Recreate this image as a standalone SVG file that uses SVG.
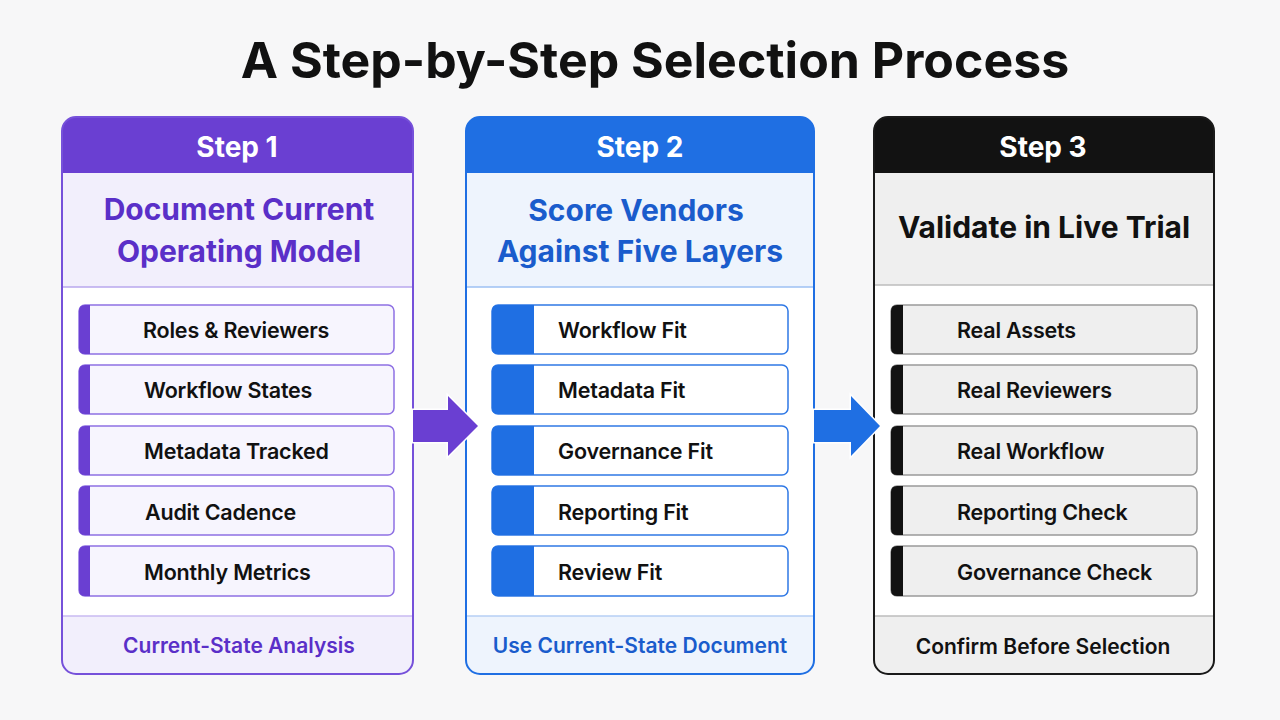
<svg xmlns="http://www.w3.org/2000/svg" width="1280" height="720" viewBox="0 0 1280 720">
<defs>
<style>
.title{font-family:Inter,"Liberation Sans",sans-serif;font-weight:700;font-size:50px;fill:#111;text-anchor:middle}
.hdr{font-family:Inter,"Liberation Sans",sans-serif;font-weight:700;font-size:28px;fill:#fff;text-anchor:middle}
.sub{font-family:Inter,"Liberation Sans",sans-serif;font-weight:700;font-size:30px;text-anchor:middle}
.item{font-family:Inter,"Liberation Sans",sans-serif;font-weight:600;font-size:21.5px;letter-spacing:-0.2px;fill:#111}
.foot{font-family:Inter,"Liberation Sans",sans-serif;font-weight:600;font-size:21px;text-anchor:middle}
.p1{fill:#5a2fc8}.p2{fill:#1a5ccc}.p3{fill:#111}
</style>
<clipPath id="c1"><rect x="62" y="117" width="351" height="557" rx="14"/></clipPath>
<clipPath id="c2"><rect x="466" y="117" width="348" height="557" rx="14"/></clipPath>
<clipPath id="c3"><rect x="874" y="117" width="340" height="557" rx="14"/></clipPath>
</defs>
<rect width="1280" height="720" fill="#f7f7f8"/>
<text class="title" x="655" y="78">A Step-by-Step Selection Process</text>

<g id="step1">
<g clip-path="url(#c1)">
<rect x="62" y="117" width="351" height="557" fill="#ffffff"/>
<rect x="62" y="117" width="351" height="56" fill="#6a3fd2"/>
<rect x="62" y="173" width="351" height="114" fill="#f2effc"/>
<rect x="62" y="616" width="351" height="58" fill="#f2effc"/>
</g>
<line x1="62" y1="287" x2="413" y2="287" stroke="#b9a7ee" stroke-width="1.5"/>
<line x1="62" y1="616" x2="413" y2="616" stroke="#c8baf2" stroke-width="1.5"/>
<rect x="62" y="117" width="351" height="557" rx="14" fill="none" stroke="#7651da" stroke-width="2"/>
<text class="hdr" x="237" y="157">Step 1</text>
<text class="sub p1" x="239" y="220">Document Current</text>
<text class="sub p1" x="239" y="262">Operating Model</text>
<g id="s1-items">
<rect x="79" y="305" width="315" height="49" rx="6" fill="#f7f5fe" stroke="#8e70e3" stroke-width="1.5"/>
<path d="M85,305 H90 V354 H85 Q79,354 79,348 V311 Q79,305 85,305 Z" fill="#6a3fd2"/>
<text class="item" x="143" y="338">Roles &amp; Reviewers</text>
<rect x="79" y="365" width="315" height="49" rx="6" fill="#f7f5fe" stroke="#8e70e3" stroke-width="1.5"/>
<path d="M85,365 H90 V414 H85 Q79,414 79,408 V371 Q79,365 85,365 Z" fill="#6a3fd2"/>
<text class="item" x="144" y="398">Workflow States</text>
<rect x="79" y="426" width="315" height="49" rx="6" fill="#f7f5fe" stroke="#8e70e3" stroke-width="1.5"/>
<path d="M85,426 H90 V475 H85 Q79,475 79,469 V432 Q79,426 85,426 Z" fill="#6a3fd2"/>
<text class="item" x="144" y="459">Metadata Tracked</text>
<rect x="79" y="486" width="315" height="49" rx="6" fill="#f7f5fe" stroke="#8e70e3" stroke-width="1.5"/>
<path d="M85,486 H90 V535 H85 Q79,535 79,529 V492 Q79,486 85,486 Z" fill="#6a3fd2"/>
<text class="item" x="145" y="520">Audit Cadence</text>
<rect x="79" y="546" width="315" height="50" rx="6" fill="#f7f5fe" stroke="#8e70e3" stroke-width="1.5"/>
<path d="M85,546 H90 V596 H85 Q79,596 79,590 V552 Q79,546 85,546 Z" fill="#6a3fd2"/>
<text class="item" x="144" y="580">Monthly Metrics</text>
</g>
<text class="foot p1" x="239" y="653">Current-State Analysis</text>
</g>

<g id="step2">
<g clip-path="url(#c2)">
<rect x="466" y="117" width="348" height="557" fill="#ffffff"/>
<rect x="466" y="117" width="348" height="56" fill="#1f6fe3"/>
<rect x="466" y="173" width="348" height="114" fill="#eef4fd"/>
<rect x="466" y="616" width="348" height="58" fill="#eef4fd"/>
</g>
<line x1="466" y1="287" x2="814" y2="287" stroke="#9dc0f3" stroke-width="1.5"/>
<line x1="466" y1="616" x2="814" y2="616" stroke="#b6cff5" stroke-width="1.5"/>
<rect x="466" y="117" width="348" height="557" rx="14" fill="none" stroke="#1f6fe3" stroke-width="2"/>
<text class="hdr" x="640" y="157">Step 2</text>
<text class="sub p2" x="636" y="221">Score Vendors</text>
<text class="sub p2" x="640" y="262">Against Five Layers</text>
<g id="s2-items">
<rect x="492" y="305" width="296" height="49" rx="6" fill="#ffffff" stroke="#2f78e5" stroke-width="1.5"/>
<path d="M498,305 H534 V354 H498 Q492,354 492,348 V311 Q492,305 498,305 Z" fill="#1f6fe3"/>
<text class="item" x="558" y="338">Workflow Fit</text>
<rect x="492" y="365" width="296" height="49" rx="6" fill="#ffffff" stroke="#2f78e5" stroke-width="1.5"/>
<path d="M498,365 H534 V414 H498 Q492,414 492,408 V371 Q492,365 498,365 Z" fill="#1f6fe3"/>
<text class="item" x="558" y="398">Metadata Fit</text>
<rect x="492" y="426" width="296" height="49" rx="6" fill="#ffffff" stroke="#2f78e5" stroke-width="1.5"/>
<path d="M498,426 H534 V475 H498 Q492,475 492,469 V432 Q492,426 498,426 Z" fill="#1f6fe3"/>
<text class="item" x="558" y="459">Governance Fit</text>
<rect x="492" y="486" width="296" height="49" rx="6" fill="#ffffff" stroke="#2f78e5" stroke-width="1.5"/>
<path d="M498,486 H534 V535 H498 Q492,535 492,529 V492 Q492,486 498,486 Z" fill="#1f6fe3"/>
<text class="item" x="558" y="520">Reporting Fit</text>
<rect x="492" y="546" width="296" height="50" rx="6" fill="#ffffff" stroke="#2f78e5" stroke-width="1.5"/>
<path d="M498,546 H534 V596 H498 Q492,596 492,590 V552 Q492,546 498,546 Z" fill="#1f6fe3"/>
<text class="item" x="558" y="580">Review Fit</text>
</g>
<text class="foot p2" x="640" y="653">Use Current-State Document</text>
</g>

<g id="step3">
<g clip-path="url(#c3)">
<rect x="874" y="117" width="340" height="557" fill="#ffffff"/>
<rect x="874" y="117" width="340" height="56" fill="#121212"/>
<rect x="874" y="173" width="340" height="112" fill="#efefef"/>
<rect x="874" y="616" width="340" height="58" fill="#efefef"/>
</g>
<line x1="874" y1="285" x2="1214" y2="285" stroke="#bdbdbd" stroke-width="1.5"/>
<line x1="874" y1="616" x2="1214" y2="616" stroke="#bdbdbd" stroke-width="1.5"/>
<rect x="874" y="117" width="340" height="557" rx="14" fill="none" stroke="#1a1a1a" stroke-width="2"/>
<text class="hdr" x="1043" y="157">Step 3</text>
<text class="sub p3" x="1044" y="238">Validate in Live Trial</text>
<g id="s3-items">
<rect x="891" y="305" width="306" height="49" rx="6" fill="#efefef" stroke="#9a9a9a" stroke-width="1.5"/>
<path d="M897,305 H903 V354 H897 Q891,354 891,348 V311 Q891,305 897,305 Z" fill="#121212"/>
<text class="item" x="957" y="338">Real Assets</text>
<rect x="891" y="365" width="306" height="49" rx="6" fill="#efefef" stroke="#9a9a9a" stroke-width="1.5"/>
<path d="M897,365 H903 V414 H897 Q891,414 891,408 V371 Q891,365 897,365 Z" fill="#121212"/>
<text class="item" x="957" y="398">Real Reviewers</text>
<rect x="891" y="426" width="306" height="49" rx="6" fill="#efefef" stroke="#9a9a9a" stroke-width="1.5"/>
<path d="M897,426 H903 V475 H897 Q891,475 891,469 V432 Q891,426 897,426 Z" fill="#121212"/>
<text class="item" x="957" y="459">Real Workflow</text>
<rect x="891" y="486" width="306" height="49" rx="6" fill="#efefef" stroke="#9a9a9a" stroke-width="1.5"/>
<path d="M897,486 H903 V535 H897 Q891,535 891,529 V492 Q891,486 897,486 Z" fill="#121212"/>
<text class="item" x="957" y="520">Reporting Check</text>
<rect x="891" y="546" width="306" height="50" rx="6" fill="#efefef" stroke="#9a9a9a" stroke-width="1.5"/>
<path d="M897,546 H903 V596 H897 Q891,596 891,590 V552 Q891,546 897,546 Z" fill="#121212"/>
<text class="item" x="957" y="580">Governance Check</text>
</g>
<text class="foot p3" x="1043" y="654">Confirm Before Selection</text>
</g>

<g id="connectors">
<polygon points="413,410 448,410 448,396 478,426 448,456 448,442 413,442" fill="#6a3fd2" stroke="#ffffff" stroke-width="3" stroke-linejoin="miter" paint-order="stroke"/>
<polygon points="814,410 851,410 851,396 880,426 851,456 851,442 814,442" fill="#1f6fe3" stroke="#ffffff" stroke-width="3" stroke-linejoin="miter" paint-order="stroke"/>
</g>
</svg>
